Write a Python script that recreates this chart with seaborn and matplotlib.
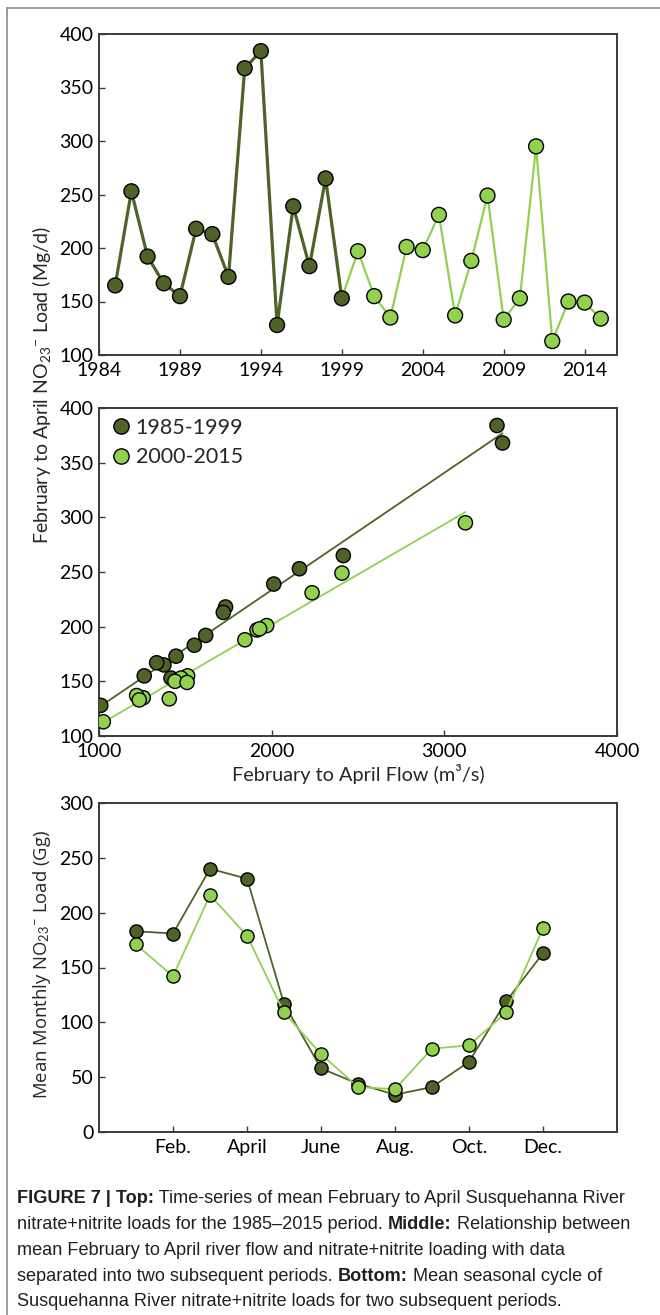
import matplotlib
matplotlib.use("Agg")
import matplotlib.pyplot as plt
import seaborn as sns
import numpy as np
import pandas as pd
from matplotlib import font_manager
from matplotlib.lines import Line2D

# ---------------- data ----------------
years = [1985, 1986, 1987, 1988, 1989, 1990, 1991, 1992, 1993, 1994, 1995, 1996,
         1997, 1998, 1999, 2000, 2001, 2002, 2003, 2004, 2005, 2006, 2007, 2008,
         2009, 2010, 2011, 2012, 2013, 2014, 2015]
annual_load = [165, 253, 192, 167, 155, 218, 213, 173, 368, 384, 128, 239,
               183, 265, 153, 197, 155, 135, 201, 198, 231, 137, 188, 249,
               133, 153, 295, 113, 150, 149, 134]
annual_flow = [1376, 2161, 1618, 1334, 1262, 1733, 1720, 1446, 3337, 3305, 1010, 2012,
               1552, 2415, 1417, 1915, 1513, 1256, 1971, 1930, 2234, 1218, 1845, 2407,
               1233, 1475, 3122, 1025, 1440, 1510, 1407]
period_labels = ["1985-1999", "2000-2015"]
split_year = 1999

months = [1, 2, 3, 4, 5, 6, 7, 8, 9, 10, 11, 12]
monthly_early = [183, 181, 240, 231, 117, 58, 44, 34, 41, 64, 119, 163]
monthly_late = [171, 142, 216, 179, 109, 71, 41, 39, 76, 79, 109, 186]

year_ticks = [1984, 1989, 1994, 1999, 2004, 2009, 2014]
flow_ticks = [1000, 2000, 3000, 4000]
month_ticks = [2, 4, 6, 8, 10, 12]
month_tick_labels = ["Feb.", "April", "June", "Aug.", "Oct.", "Dec."]

caption_lines = [
    [("FIGURE 7 | Top:", "bold"), (" Time-series of mean February to April Susquehanna River", "normal")],
    [("nitrate+nitrite loads for the 1985\u20132015 period. ", "normal"), ("Middle:", "bold"),
     (" Relationship between", "normal")],
    [("mean February to April river flow and nitrate+nitrite loading with data", "normal")],
    [("separated into two subsequent periods. ", "normal"), ("Bottom:", "bold"),
     (" Mean seasonal cycle of", "normal")],
    [("Susquehanna River nitrate+nitrite loads for two subsequent periods.", "normal")],
]

DARK = "#4F6228"
LIGHT = "#92D050"

# ---------------- style ----------------
sns.set_style("ticks")
avail = {f.name for f in font_manager.fontManager.ttflist}


def pick(*names):
    for n in names:
        if n in avail:
            return n
    return "DejaVu Sans"


MAIN = pick("Lato", "Open Sans", "DejaVu Sans")
ALT = pick("Open Sans", "Noto Sans", "DejaVu Sans")
CAP = pick("Liberation Sans", "DejaVu Sans")

plt.rcParams["font.family"] = [MAIN, "DejaVu Sans"]
plt.rcParams["mathtext.fontset"] = "custom"
plt.rcParams["mathtext.rm"] = MAIN
plt.rcParams["mathtext.it"] = MAIN
plt.rcParams["mathtext.bf"] = MAIN

W, H = 660, 1315
fig = plt.figure(figsize=(W / 100, H / 100), dpi=100)
fig.patch.set_facecolor("white")


def px_axes(left, top, right, bottom):
    return fig.add_axes([left / W, 1 - bottom / H, (right - left) / W, (bottom - top) / H])


def style_axes(ax):
    for s in ax.spines.values():
        s.set_linewidth(1.4)
        s.set_color("#3a3a3a")
    ax.tick_params(direction="in", length=4, width=1, labelsize=14, colors="#3a3a3a",
                   labelcolor="black")
    ax.tick_params(axis="x", pad=5)
    ax.tick_params(axis="y", pad=4)
    ax.set_xlabel("")
    ax.set_ylabel("")


df = pd.DataFrame({"year": years, "load": annual_load, "flow": annual_flow})
df["period"] = np.where(df["year"] <= split_year, period_labels[0], period_labels[1])
pal = {period_labels[0]: DARK, period_labels[1]: LIGHT}

# ---------------- top panel ----------------
ax1 = px_axes(99, 34, 617, 355)
early = df[df["year"] <= split_year]
late_line = df[df["year"] >= split_year]
sns.lineplot(data=early, x="year", y="load", color=DARK, lw=2.3, ax=ax1, zorder=2)
sns.lineplot(data=late_line, x="year", y="load", color=LIGHT, lw=1.6, ax=ax1, zorder=2)
sns.scatterplot(data=df, x="year", y="load", hue="period", palette=pal, s=115,
                edgecolor="black", linewidth=1.0, ax=ax1, legend=False, zorder=3)
ax1.set_xlim(1984, 2016)
ax1.set_ylim(100, 400)
ax1.set_xticks(year_ticks)
ax1.set_yticks(range(100, 401, 50))
style_axes(ax1)

# ---------------- middle panel ----------------
ax2 = px_axes(99, 408, 617, 736)
for lab in period_labels:
    sub = df[df["period"] == lab]
    sns.regplot(data=sub, x="flow", y="load", scatter=False, ci=None, truncate=True,
                color=pal[lab], line_kws={"lw": 1.3, "zorder": 2}, ax=ax2)
sns.scatterplot(data=df, x="flow", y="load", hue="period", palette=pal, s=105,
                edgecolor="black", linewidth=1.0, ax=ax2, legend=False, zorder=3)
ax2.set_xlim(1000, 4000)
ax2.set_ylim(100, 400)
ax2.set_xticks(flow_ticks)
ax2.set_yticks(range(100, 401, 50))
style_axes(ax2)
ax2.set_xlabel("February to April Flow (m\u00b3/s)", fontsize=14.3, labelpad=3)
handles = [Line2D([], [], marker="o", ls="", mfc=pal[l], mec="black", mew=1.0, ms=11)
           for l in period_labels]
ax2.legend(handles, period_labels, loc="upper left", frameon=False, fontsize=15.5,
           handletextpad=0.15, borderaxespad=0.2, labelspacing=0.45, handlelength=1.1,
           borderpad=0.25)

# ---------------- bottom panel ----------------
ax3 = px_axes(99, 803, 617, 1132)
mdf = pd.DataFrame({
    "month": months + months,
    "load": monthly_early + monthly_late,
    "period": [period_labels[0]] * len(months) + [period_labels[1]] * len(months),
})
sns.lineplot(data=mdf, x="month", y="load", hue="period", palette=pal, marker="o",
             markersize=9.5, markeredgecolor="black", markeredgewidth=1.0, lw=1.3,
             ax=ax3, legend=False)
ax3.set_xlim(0, 14)
ax3.set_ylim(0, 300)
ax3.set_xticks(month_ticks)
ax3.set_xticklabels(month_tick_labels)
ax3.set_yticks(range(0, 301, 50))
style_axes(ax3)

# ---------------- y labels ----------------
fig.text(42 / W, 1 - 385 / H, "February to April NO$_{23}$$^{-}$ Load (Mg/d)",
         rotation=90, ha="center", va="center", fontsize=14)
fig.text(42 / W, 1 - 964 / H, "Mean Monthly NO$_{23}$$^{-}$ Load (Gg)",
         rotation=90, ha="center", va="center", fontsize=13.3, family=[ALT, "DejaVu Sans"])

# ---------------- frame ----------------
fig.add_artist(Line2D([7 / W, 7 / W], [0, 1 - 8 / H], transform=fig.transFigure,
                      color="#8a8a8a", lw=1.2))
fig.add_artist(Line2D([7 / W, 1], [1 - 8 / H, 1 - 8 / H], transform=fig.transFigure,
                      color="#8a8a8a", lw=1.2))

# ---------------- caption ----------------
fig.canvas.draw()
renderer = fig.canvas.get_renderer()
cap_size = 13.1
x0 = 17
baselines = [1203, 1229, 1255, 1281, 1306]
for line, yb in zip(caption_lines, baselines):
    x = x0
    for txt, wt in line:
        t = fig.text(x / W, 1 - yb / H, txt, fontsize=cap_size, fontweight=wt,
                     family=[CAP, "DejaVu Sans"], color="#231f20", ha="left", va="baseline")
        bb = t.get_window_extent(renderer=renderer)
        x += bb.width

fig.savefig("out.png", dpi=100, facecolor="white")
